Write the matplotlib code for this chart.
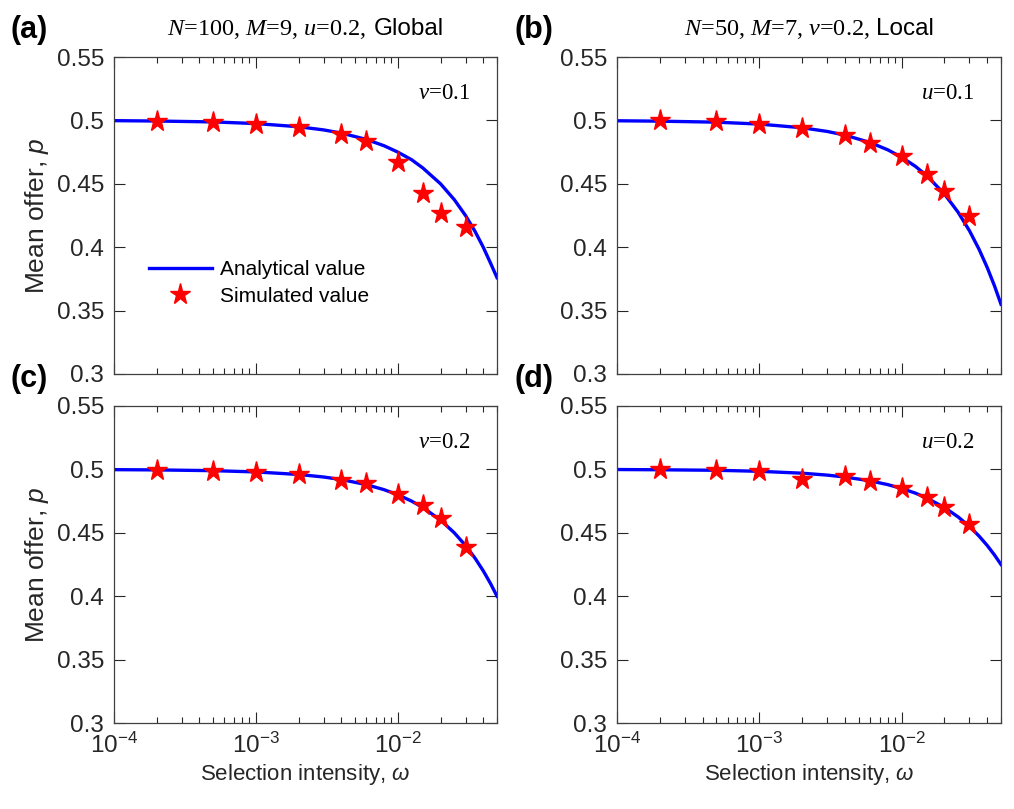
import math
import matplotlib
matplotlib.use('Agg')
import matplotlib.pyplot as plt
from matplotlib.ticker import FixedLocator, FuncFormatter, LogLocator, NullFormatter
from matplotlib.offsetbox import TextArea, HPacker, AnchoredOffsetbox

plt.rcParams['font.family'] = ['Liberation Sans', 'DejaVu Sans']
plt.rcParams['mathtext.fontset'] = 'custom'
plt.rcParams['mathtext.rm'] = 'Liberation Serif'
plt.rcParams['mathtext.it'] = 'Liberation Sans:italic'
plt.rcParams['mathtext.cal'] = 'Liberation Serif:italic'
plt.rcParams['mathtext.sf'] = 'Liberation Sans'

# analytical curve
w_curve = [1e-4, 2e-4, 5e-4, 1e-3, 2e-3, 3e-3, 4e-3, 6e-3, 8e-3, 1e-2,
           1.25e-2, 1.5e-2, 2e-2, 2.5e-2, 3e-2, 3.5e-2, 4e-2, 4.5e-2, 5e-2]
curve_a = [0.4998, 0.4995, 0.4988, 0.4975, 0.495, 0.4925, 0.490, 0.485, 0.480, 0.475,
           0.469, 0.4625, 0.450, 0.4375, 0.425, 0.4125, 0.400, 0.3875, 0.376]
curve_b = [0.4997, 0.4994, 0.4986, 0.4971, 0.4942, 0.4913, 0.4884, 0.4826, 0.4768, 0.471,
           0.4638, 0.4565, 0.442, 0.4275, 0.413, 0.3985, 0.384, 0.3695, 0.355]
curve_c = [0.4998, 0.4996, 0.499, 0.498, 0.496, 0.494, 0.492, 0.488, 0.484, 0.480,
           0.475, 0.470, 0.460, 0.450, 0.440, 0.430, 0.420, 0.410, 0.400]
curve_d = [0.4999, 0.4997, 0.4993, 0.4985, 0.497, 0.4955, 0.494, 0.491, 0.488, 0.485,
           0.4813, 0.4775, 0.470, 0.4625, 0.455, 0.4475, 0.440, 0.4325, 0.425]

# simulated points
w_sim = [2e-4, 5e-4, 1e-3, 2e-3, 4e-3, 6e-3, 1e-2, 1.5e-2, 2e-2, 3e-2]
sim_a = [0.4995, 0.499, 0.4968, 0.4947, 0.4895, 0.4834, 0.467, 0.4428, 0.427, 0.4156]
sim_b = [0.5, 0.4992, 0.4974, 0.4942, 0.4887, 0.4824, 0.4716, 0.4574, 0.4447, 0.425]
sim_c = [0.4995, 0.499, 0.498, 0.4963, 0.492, 0.4889, 0.4805, 0.4716, 0.4613, 0.439]
sim_d = [0.5, 0.4995, 0.4987, 0.4924, 0.4947, 0.491, 0.485, 0.4779, 0.4705, 0.4568]

panel_labels = ['(a)', '(b)', '(c)', '(d)']
title_serif = [r'$\mathcal{N}$=100, $\mathcal{M}$=9, $\mathcal{u}$=0.2,',
               r'$\mathcal{N}$=50, $\mathcal{M}$=7, $\mathcal{v}$=0.2,', None, None]
title_sans = ['Global', 'Local', None, None]
notes = [r'$\mathcal{v}$=0.1', r'$\mathcal{u}$=0.1', r'$\mathcal{v}$=0.2', r'$\mathcal{u}$=0.2']
yticks = [0.3, 0.35, 0.4, 0.45, 0.5, 0.55]
ytick_labels = ['0.3', '0.35', '0.4', '0.45', '0.5', '0.55']

curves = [curve_a, curve_b, curve_c, curve_d]
sims = [sim_a, sim_b, sim_c, sim_d]

fig = plt.figure(figsize=(10.14, 8.09), dpi=100)
W, H = 1014.0, 809.0
boxes = [(114, 57, 497, 374), (617, 57, 1001, 374),
         (114, 406, 497, 723), (617, 406, 1001, 723)]
dark = '#262626'

for i, (x0, y0, x1, y1) in enumerate(boxes):
    ax = fig.add_axes([x0 / W, 1 - y1 / H, (x1 - x0) / W, (y1 - y0) / H])
    ln, = ax.plot(w_curve, curves[i], color='blue', lw=2.4, label='Analytical value')
    st, = ax.plot(w_sim, sims[i], ls='none', marker='*', ms=15.5, mfc='red', mec='red',
                  label='Simulated value')
    ax.set_xscale('log')
    ax.set_xlim(1e-4, 5e-2)
    ax.set_ylim(0.3, 0.55)
    ax.yaxis.set_major_locator(FixedLocator(yticks))
    ax.set_yticklabels(ytick_labels)
    ax.xaxis.set_major_locator(FixedLocator([1e-4, 1e-3, 1e-2]))
    ax.xaxis.set_minor_locator(LogLocator(base=10, subs=range(2, 10)))
    ax.xaxis.set_minor_formatter(NullFormatter())
    if i >= 2:
        ax.xaxis.set_major_formatter(FuncFormatter(
            lambda v, p: r'$\mathsf{10^{%d}}$' % round(math.log10(v))))
        ax.set_xlabel(r'Selection intensity, $\omega$', fontsize=16, color=dark, labelpad=3)
    else:
        ax.set_xticklabels([])
    if i % 2 == 0:
        ax.set_ylabel(r'Mean offer, $p$', fontsize=19, color=dark, labelpad=4)
    ax.tick_params(which='both', direction='in', top=True, right=True, colors=dark,
                   labelsize=17.5)
    ax.tick_params(which='major', length=8, width=0.8, pad=7)
    ax.tick_params(which='minor', length=4, width=0.8)
    for sp in ax.spines.values():
        sp.set_color('#404040')
        sp.set_linewidth(0.9)
    if title_serif[i]:
        pack = HPacker(children=[
            TextArea(title_serif[i], textprops=dict(fontsize=17.5, family='Liberation Serif')),
            TextArea(title_sans[i], textprops=dict(fontsize=17.5, family='Liberation Sans'))],
            sep=5, align='baseline', pad=0)
        ab = AnchoredOffsetbox(loc='lower center', child=pack, frameon=False, pad=0,
                               borderpad=0, bbox_to_anchor=(0.5, 1.05),
                               bbox_transform=ax.transAxes)
        ax.add_artist(ab)
    ax.text(0.93, 0.885, notes[i], transform=ax.transAxes, ha='right', va='center',
            fontsize=16.5, family='Liberation Serif')
    fig.text((x0 - 103) / W, 1 - (y0 - 27) / H, panel_labels[i], fontsize=22,
             fontweight='bold', ha='left', va='center')
    if i == 0:
        ax.legend(handles=[ln, st], loc='upper left', bbox_to_anchor=(0.07, 0.385),
                  frameon=False, fontsize=15, handlelength=3.0, handletextpad=0.4,
                  labelspacing=0.35, borderaxespad=0)

fig.savefig('out.png', dpi=100)
